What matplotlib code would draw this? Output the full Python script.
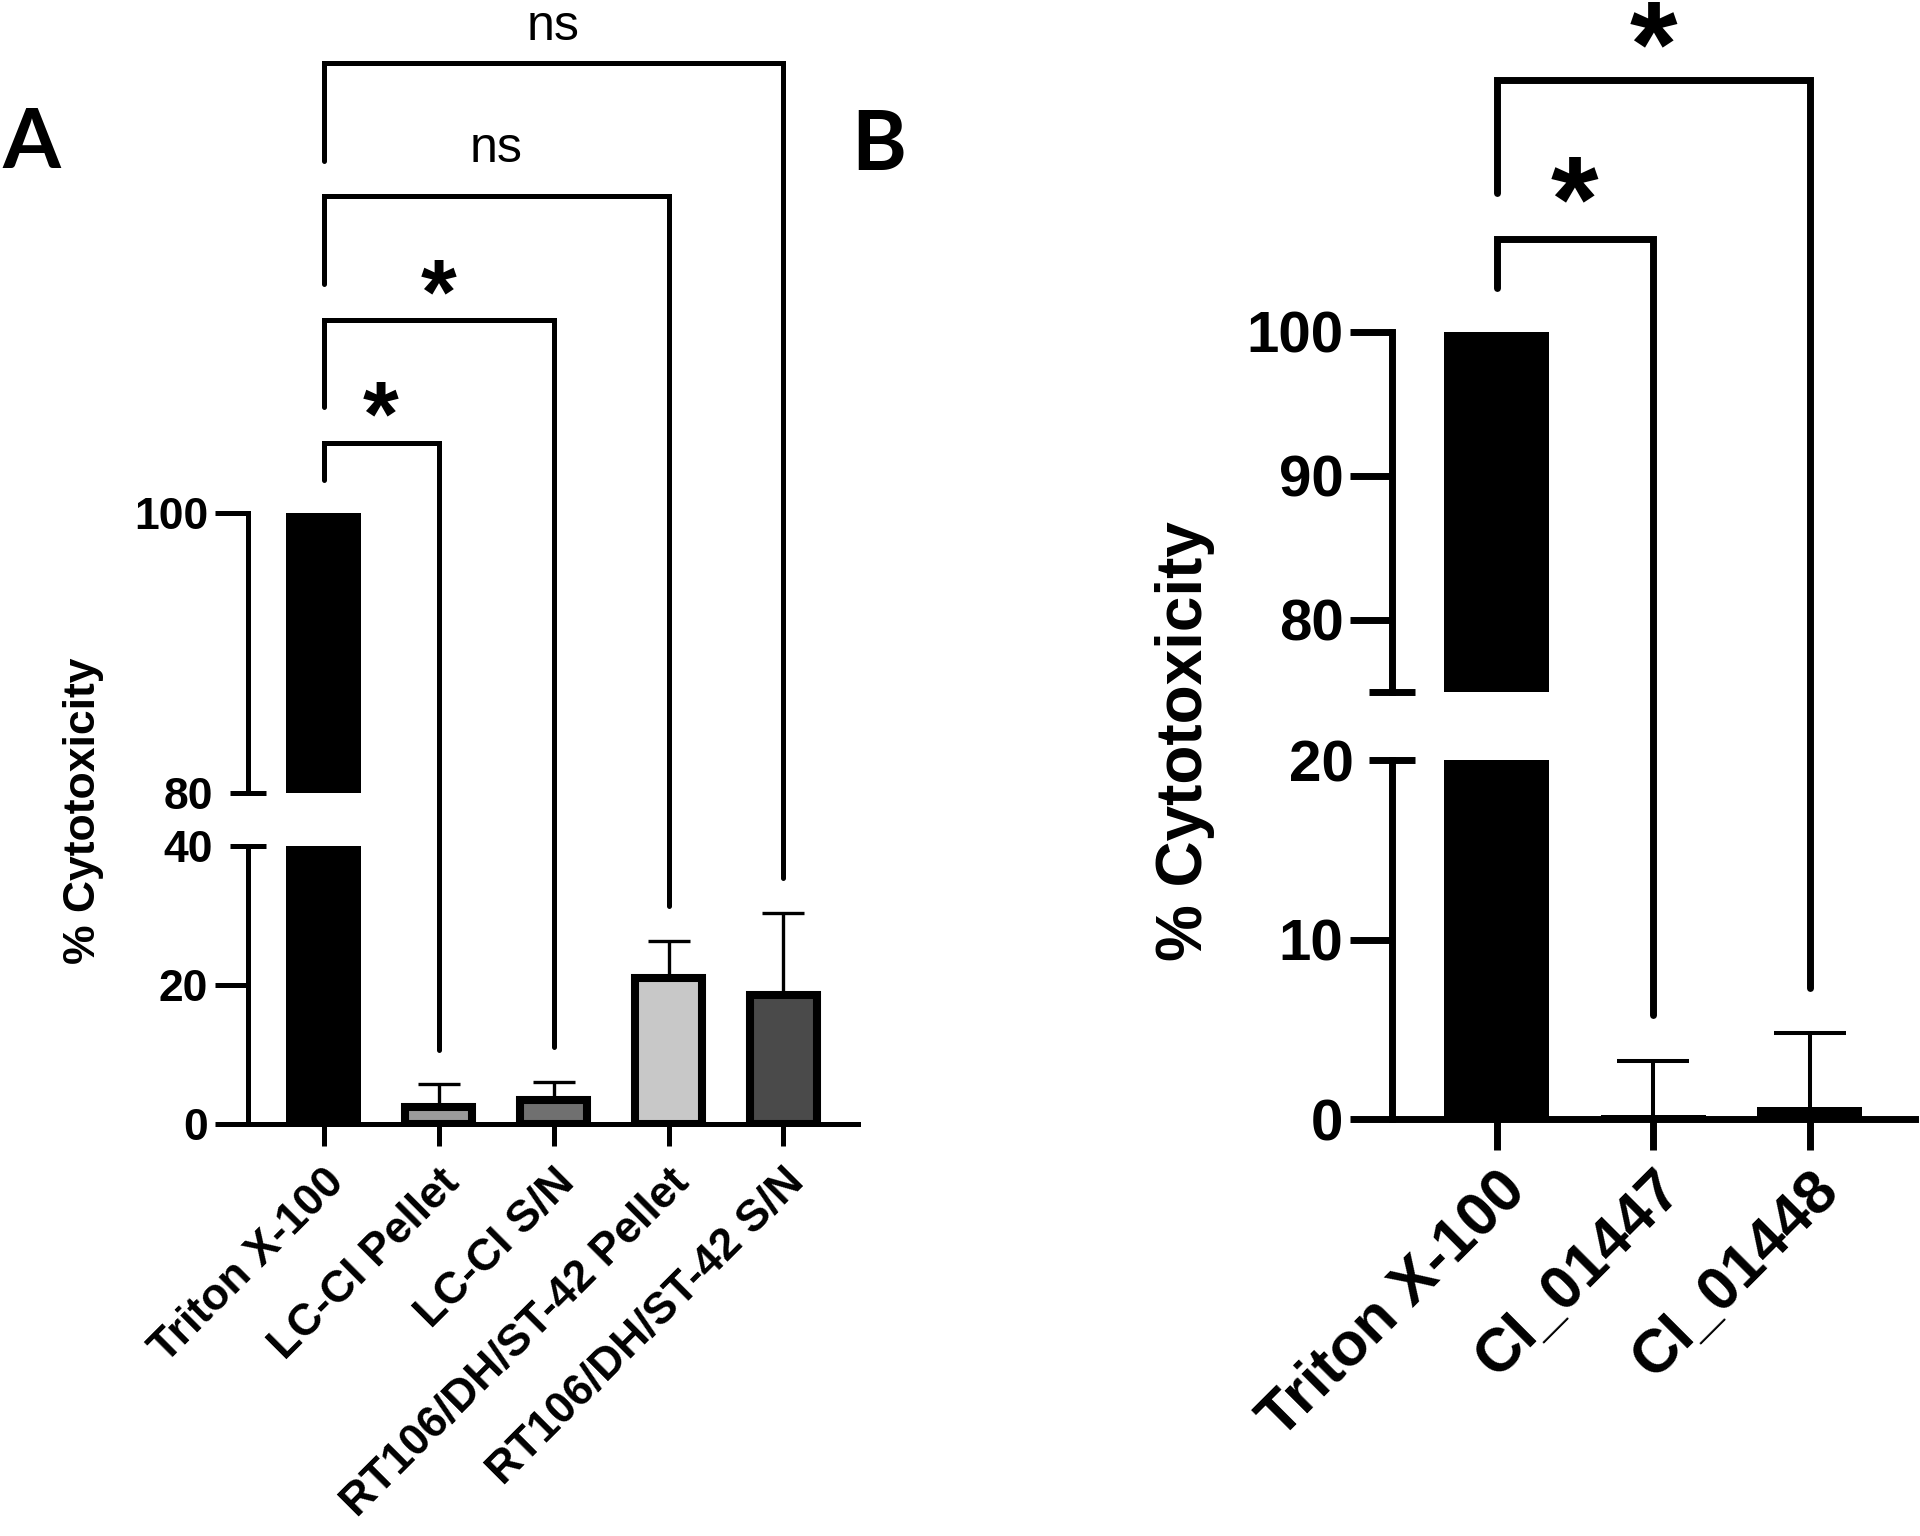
import numpy as np
import matplotlib
matplotlib.use('Agg')
import matplotlib.pyplot as plt

plt.rcParams['font.family'] = ['Liberation Sans', 'DejaVu Sans']
plt.rcParams['font.weight'] = 'bold'

W, H = 1920, 1536

# panel A
labels_a = ['Triton X-100', 'LC-CI Pellet', 'LC-CI S/N',
            'RT106/DH/ST-42 Pellet', 'RT106/DH/ST-42 S/N']
values_a = [100, 2.5, 3.4, 21.0, 18.6]
err_a = [0, 3.2, 2.7, 5.4, 11.7]
colors_a = ['black', '#9a9a9a', '#707070', '#c8c8c8', '#4a4a4a']
# (target bar, left leg end, top, right leg end, label, label y)
brackets_a = [(1, 92.7, 98.0, 10.7, '*', 101.1),
              (2, 103.2, 115.7, 11.1, '*', 118.6),
              (3, 120.9, 133.5, 31.4, 'ns', 140.3),
              (4, 138.5, 152.6, 35.4, 'ns', 157.8)]

# panel B
labels_b = ['Triton X-100', 'CI_01447', 'CI_01448']
values_b = [100, 0.25, 0.7]
err_b = [0, 3.0, 4.1]
brackets_b = [(1, 46.3, 49.05, 5.8, '*', 50.75),
              (2, 51.6, 57.9, 7.3, '*', 59.4)]


def rect(left, top, right, bottom):
    return [left / W, 1 - bottom / H, (right - left) / W, (bottom - top) / H]


fig = plt.figure(figsize=(19.2, 15.36), dpi=100)


def panel(lo_rect, hi_rect, labels, values, errs, colors, widths, edge_lw,
          lo_lim, hi_lim, lo_ticks, hi_ticks, lo_break, hi_break, xlim,
          lw, tick_len, cap_len, fs_tick, fs_x, rot_x, pad_x, err_lw, capsize,
          xtick_len, brackets, br_lw, star_fs, ns_fs, minor_pad):
    ax_lo = fig.add_axes(rect(*lo_rect))
    ax_hi = fig.add_axes(rect(*hi_rect))
    x = np.arange(len(labels))
    for ax in (ax_lo, ax_hi):
        ax.bar(x, values, width=widths, color=colors, edgecolor='black',
               linewidth=edge_lw, zorder=2)
        eb = ax.errorbar(x, values, yerr=[np.zeros(len(errs)), errs], fmt='none',
                         ecolor='black', elinewidth=err_lw, capsize=capsize,
                         capthick=err_lw, zorder=3)
        eb[1][0].set_visible(False)
        ax.set_xlim(*xlim)
        ax.spines['top'].set_visible(False)
        ax.spines['right'].set_visible(False)
        ax.spines['left'].set_linewidth(lw)
        ax.spines['bottom'].set_linewidth(lw)
        ax.tick_params(axis='y', which='major', direction='out', length=tick_len,
                       width=lw, labelsize=fs_tick, pad=5)
        ax.tick_params(axis='y', which='minor', direction='inout', length=cap_len,
                       width=lw, labelsize=fs_tick, pad=minor_pad)
        ax.set_facecolor('none')
    ax_lo.set_ylim(*lo_lim)
    ax_hi.set_ylim(*hi_lim)
    ax_lo.set_yticks(lo_ticks)
    ax_hi.set_yticks(hi_ticks)
    ax_lo.set_yticks([lo_break], minor=True)
    ax_lo.set_yticklabels([str(lo_break)], minor=True)
    ax_hi.set_yticks([hi_break[0]], minor=True)
    ax_hi.set_yticklabels([hi_break[1]], minor=True)
    ax_hi.spines['bottom'].set_visible(False)
    ax_hi.set_xticks([])
    ax_lo.set_xticks(x)
    ax_lo.set_xticklabels(labels, rotation=rot_x, ha='right', rotation_mode='anchor',
                          fontsize=fs_x)
    ax_lo.tick_params(axis='x', direction='out', length=xtick_len, width=lw,
                      pad=pad_x)
    for ax in (ax_lo, ax_hi):
        for t in ax.get_yticklabels(which='both'):
            t.set_fontweight('bold')

    for tgt, yl, yt, yr, txt, ty in brackets:
        ax_lo.plot([0, 0, tgt, tgt], [yl, yt, yt, yr], color='black', lw=br_lw,
                   clip_on=False, solid_capstyle='round', solid_joinstyle='miter',
                   zorder=4)
        if txt == '*':
            ax_lo.text(tgt / 2, ty, txt, ha='center', va='center', fontsize=star_fs,
                       fontweight='bold', clip_on=False)
        else:
            ax_lo.text(tgt / 2, ty, txt, ha='center', va='center', fontsize=ns_fs,
                       fontweight='normal', clip_on=False)
    return ax_lo, ax_hi


panel((248, 846, 858, 1124), (248, 513, 858, 793), labels_a, values_a, err_a,
      colors_a, [0.652, 0.59, 0.59, 0.59, 0.59], [0, 5.8, 5.8, 5.8, 5.8],
      (0, 40), (80, 100), [0, 20], [100], 40, (80, '80'),
      (-0.657, 4.648), 3.6, 23.8, 26, 32, 32, 45, 11, 2.4, 15, 16,
      brackets_a, 3.6, 66, 36, 12)

panel((1392, 760.4, 1915, 1119.3), (1392, 331.7, 1915, 692), labels_b, values_b,
      err_b, ['black'] * 3, 0.67, 0, (0, 20), (75, 100), [0, 10], [80, 90, 100],
      20, (75, ''), (-0.667, 2.67), 5.0, 30, 33, 42, 44, 45, 8, 2.9, 26, 22,
      brackets_b, 5.0, 88, 36, 11)

fig.text(84 / W, 1 - 811 / H, '% Cytotoxicity', rotation=90, ha='center',
         va='center', fontsize=32, fontweight='bold')
fig.text(1185 / W, 1 - 741 / H, '% Cytotoxicity', rotation=90, ha='center',
         va='center', fontsize=46, fontweight='bold')
fig.text(31 / W, 1 - 145 / H, 'A', ha='center', va='center', fontsize=60,
         fontweight='bold', family=['Lato', 'DejaVu Sans'])
fig.text(879 / W, 1 - 146 / H, 'B', ha='center', va='center', fontsize=60,
         fontweight='bold', family=['Lato', 'DejaVu Sans'])

fig.savefig('out.png', dpi=100, facecolor='white')
